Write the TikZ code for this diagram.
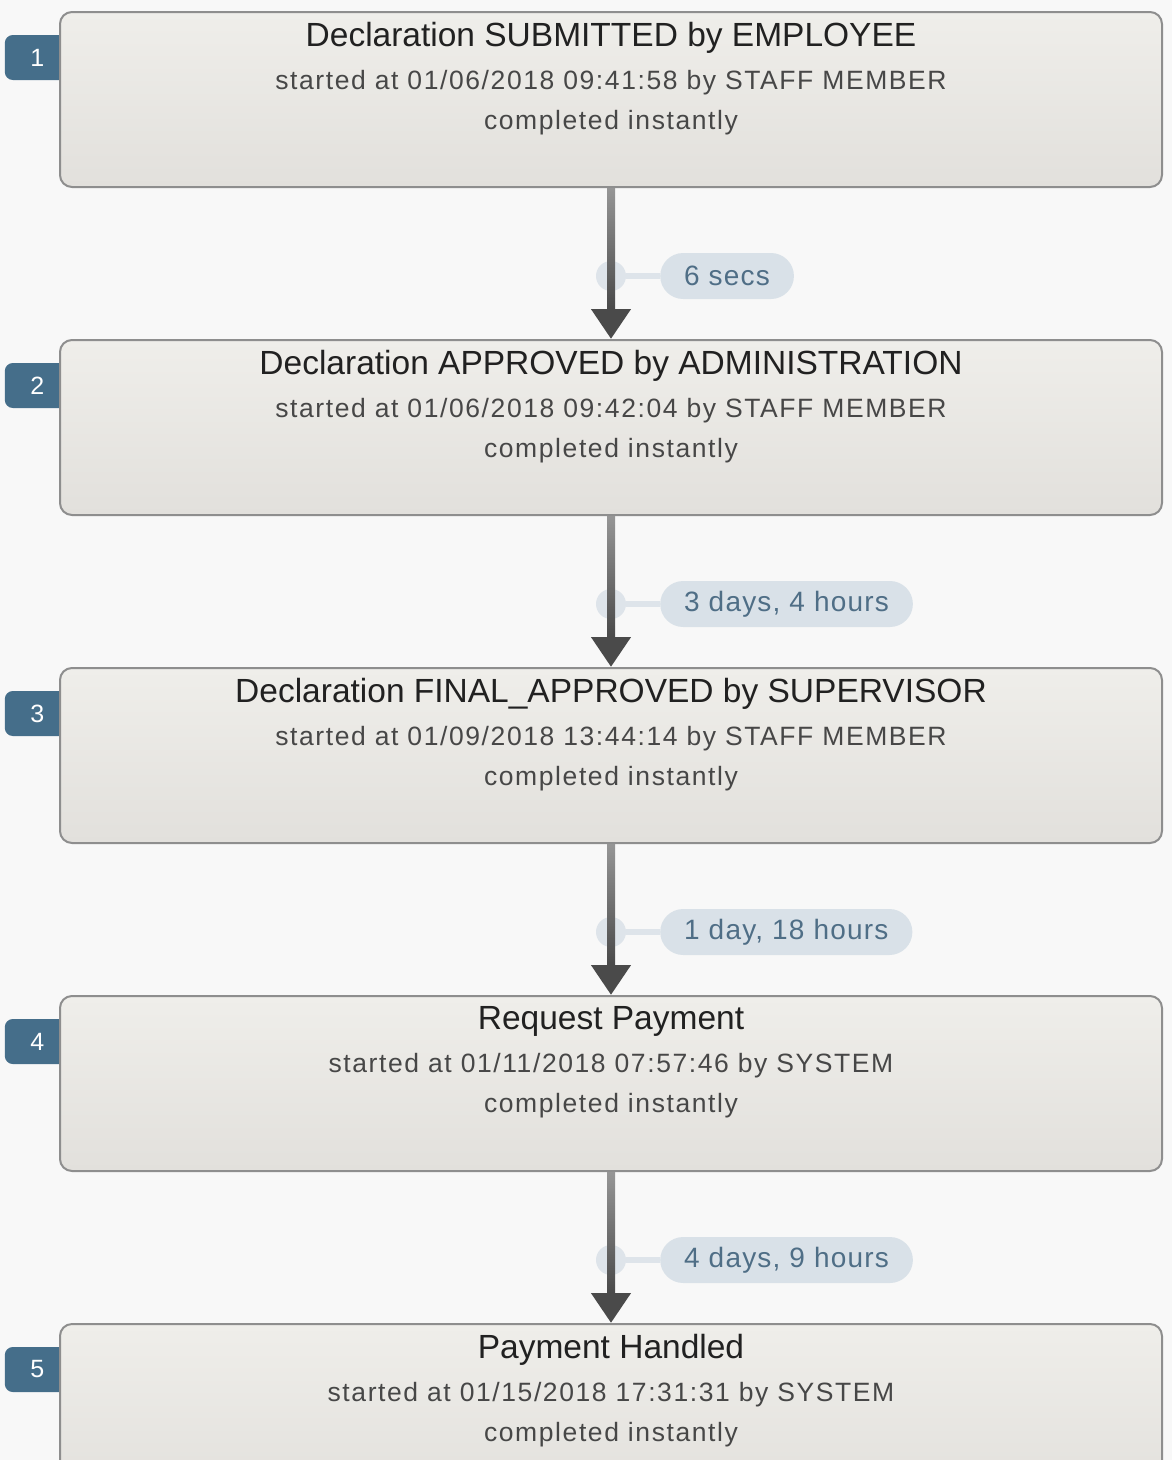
\documentclass[tikz,border=0pt]{standalone}
\usepackage{fontspec}
\setmainfont{Liberation Sans}
\newfontfamily\spacedfont[LetterSpace=6]{Liberation Sans}
\newfontfamily\pillfont[LetterSpace=4.3]{Liberation Sans}
\usetikzlibrary{arrows.meta, positioning, backgrounds}
\definecolor{pagebg}{HTML}{F8F8F8}
\definecolor{boxtop}{HTML}{EFEEEA}
\definecolor{boxbot}{HTML}{E2E0DC}
\definecolor{boxline}{HTML}{8E8E8E}
\definecolor{tabblue}{HTML}{456E8A}
\definecolor{pillfill}{HTML}{D9E1E8}
\definecolor{dotfill}{HTML}{DEE4EA}
\definecolor{pilltext}{HTML}{4F6E86}
\definecolor{arrowdark}{HTML}{4A4A4A}
\definecolor{arrowlight}{HTML}{969696}
\tikzstyle{block}=[draw=boxline,line width=2pt,rounded corners=12pt,
  top color=boxtop,bottom color=boxbot,minimum width=1102pt,minimum height=175pt]
\tikzstyle{caption}=[anchor=north,align=center,inner sep=0pt,text=black!72,
  font=\spacedfont\fontsize{26.5}{40}\selectfont]
\tikzstyle{tab}=[fill=tabblue,text=white,rounded corners=8pt,inner sep=0pt,
  minimum width=65pt,minimum height=45pt,font=\fontsize{25}{25}\selectfont]
\tikzstyle{pill}=[fill=pillfill,text=pilltext,rounded corners=23pt,inner ysep=0pt,
  inner xsep=24pt,minimum height=46pt,font=\pillfont\fontsize{28}{28}\selectfont]
\tikzstyle{dot}=[circle,fill=dotfill,minimum size=30pt,inner sep=0pt]
\tikzstyle{stem}=[dotfill,line width=6pt]
\tikzstyle{flow}=[arrowdark,line width=8pt,-{Triangle[width=38pt,length=30pt]}]
\newcommand{\steptitle}[1]{{\rmfamily\fontsize{33.5}{40}\selectfont\color{black!87}#1}}

\begin{document}
\begin{tikzpicture}[x=1pt,y=-1pt]
  \useasboundingbox (0,0) rectangle (1172,1460);
  \node[block] (b1) at (611,99.5) {};
  \node[block,below of=b1,node distance=328pt] (b2) {};
  \node[block,below of=b2,node distance=328pt] (b3) {};
  \node[block,below of=b3,node distance=328pt] (b4) {};
  \node[block,below of=b4,node distance=328pt] (b5) {};

  \node[caption] (c1) at ([yshift=-11pt]b1.north) {\steptitle{Declaration SUBMITTED by EMPLOYEE}\\[3pt]
    started at 01/06/2018 09:41:58 by STAFF MEMBER\\ completed instantly};
  \node[caption] (c2) at ([yshift=-11pt]b2.north) {\steptitle{Declaration APPROVED by ADMINISTRATION}\\[3pt]
    started at 01/06/2018 09:42:04 by STAFF MEMBER\\ completed instantly};
  \node[caption] (c3) at ([yshift=-11pt]b3.north) {\steptitle{Declaration FINAL\_APPROVED by SUPERVISOR}\\[3pt]
    started at 01/09/2018 13:44:14 by STAFF MEMBER\\ completed instantly};
  \node[caption] (c4) at ([yshift=-11pt]b4.north) {\steptitle{Request Payment}\\[3pt]
    started at 01/11/2018 07:57:46 by SYSTEM\\ completed instantly};
  \node[caption] (c5) at ([yshift=-11pt]b5.north) {\steptitle{Payment Handled}\\[3pt]
    started at 01/15/2018 17:31:31 by SYSTEM\\ completed instantly};

  % durations
  \node[dot] (d1) at ([yshift=-88pt]b1.south) {};
  \node[pill,anchor=west] (l1) at ([xshift=49pt,yshift=-88pt]b1.south) {6 secs};
  \draw[stem] (d1) -- (l1);
  \node[dot] (d2) at ([yshift=-88pt]b2.south) {};
  \node[pill,anchor=west] (l2) at ([xshift=49pt,yshift=-88pt]b2.south) {3 days, 4 hours};
  \draw[stem] (d2) -- (l2);
  \node[dot] (d3) at ([yshift=-88pt]b3.south) {};
  \node[pill,anchor=west] (l3) at ([xshift=49pt,yshift=-88pt]b3.south) {1 day, 18 hours};
  \draw[stem] (d3) -- (l3);
  \node[dot] (d4) at ([yshift=-88pt]b4.south) {};
  \node[pill,anchor=west] (l4) at ([xshift=49pt,yshift=-88pt]b4.south) {4 days, 9 hours};
  \draw[stem] (d4) -- (l4);

  % arrows
  \draw[flow] (b1) -- (b2);
  \draw[flow] (b2) -- (b3);
  \draw[flow] (b3) -- (b4);
  \draw[flow] (b4) -- (b5);
  \shade[top color=arrowlight,bottom color=arrowdark] ([xshift=-4pt]b1.south) rectangle ([xshift=4pt,yshift=31pt]b2.north);
  \shade[top color=arrowlight,bottom color=arrowdark] ([xshift=-4pt]b2.south) rectangle ([xshift=4pt,yshift=31pt]b3.north);
  \shade[top color=arrowlight,bottom color=arrowdark] ([xshift=-4pt]b3.south) rectangle ([xshift=4pt,yshift=31pt]b4.north);
  \shade[top color=arrowlight,bottom color=arrowdark] ([xshift=-4pt]b4.south) rectangle ([xshift=4pt,yshift=31pt]b5.north);

  \begin{scope}[on background layer]
    \fill[pagebg] (0,0) rectangle (1172,1460);
    \node[tab,anchor=east] (n1) at ([xshift=11pt,yshift=42pt]b1.west) {1};
    \node[tab,anchor=east] (n2) at ([xshift=11pt,yshift=42pt]b2.west) {2};
    \node[tab,anchor=east] (n3) at ([xshift=11pt,yshift=42pt]b3.west) {3};
    \node[tab,anchor=east] (n4) at ([xshift=11pt,yshift=42pt]b4.west) {4};
    \node[tab,anchor=east] (n5) at ([xshift=11pt,yshift=42pt]b5.west) {5};
  \end{scope}
\end{tikzpicture}
\end{document}
